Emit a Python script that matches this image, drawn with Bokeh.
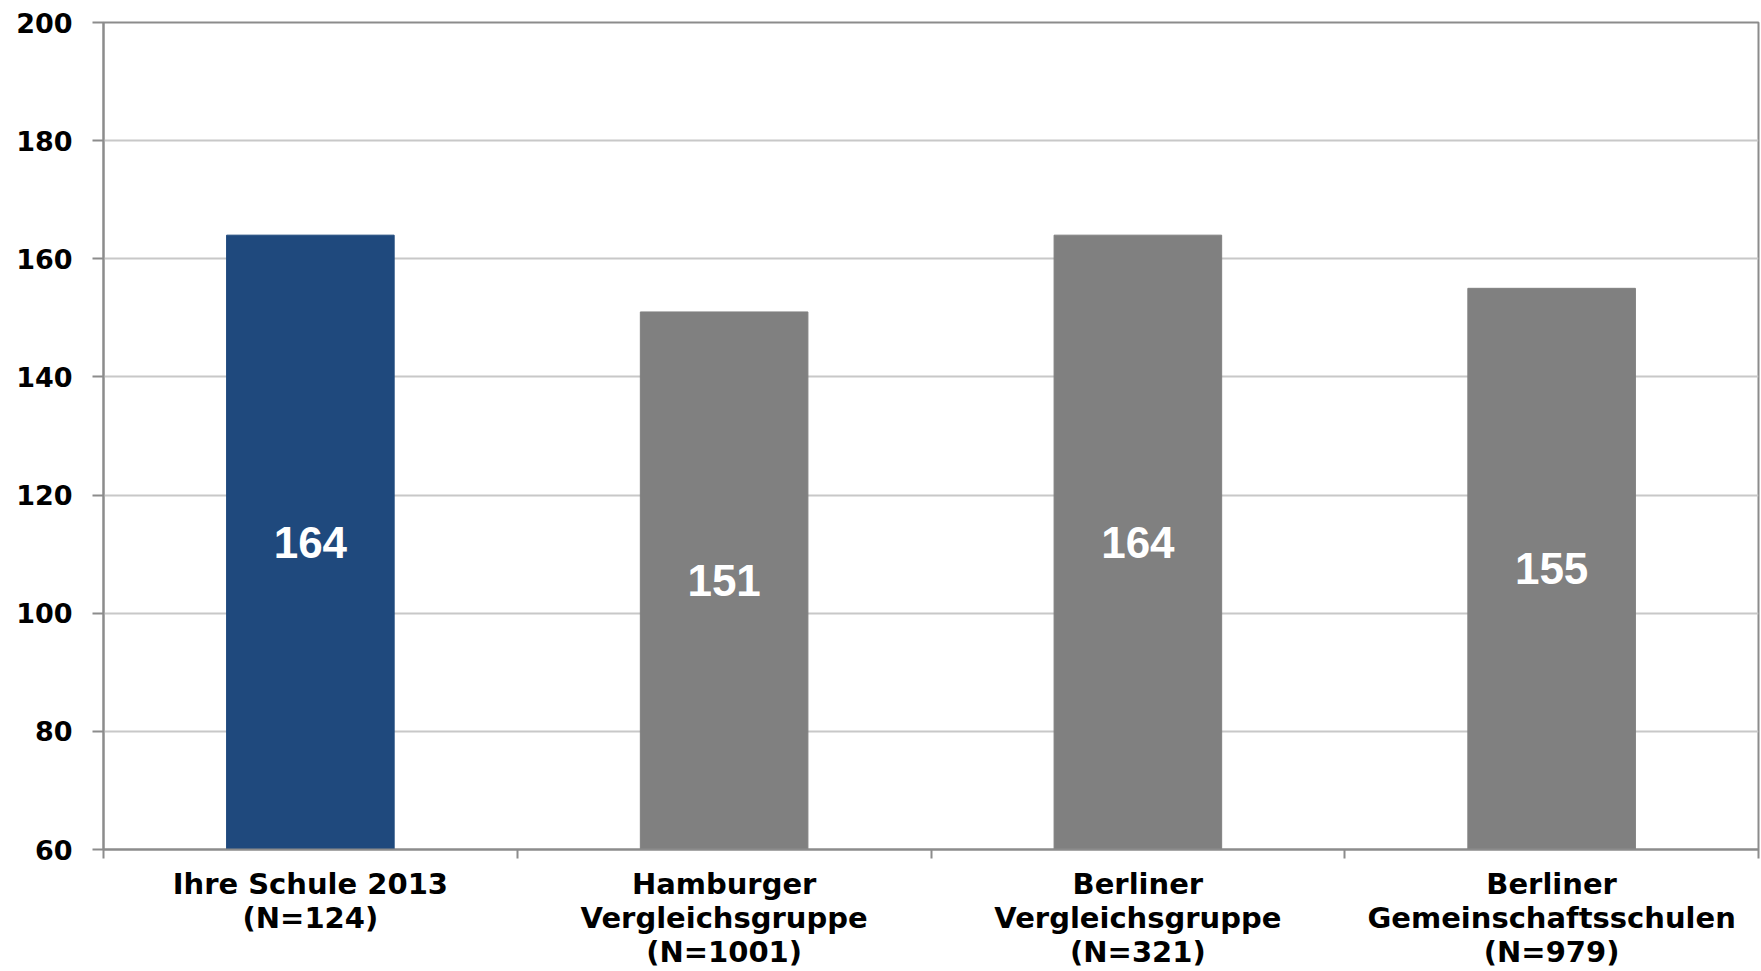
from bokeh.plotting import figure
from bokeh.models import Range1d, FixedTicker, ColumnDataSource
from bokeh.embed import file_html
from bokeh.resources import INLINE
from bokeh.core.properties import value

# ---- data ----
categories = ["Ihre Schule 2013", "Hamburger\nVergleichsgruppe",
              "Berliner\nVergleichsgruppe", "Berliner\nGemeinschaftsschulen"]
n_counts = [124, 1001, 321, 979]
values = [164, 151, 164, 155]
bar_colors = ["#1F497D", "#808080", "#808080", "#808080"]
y_ticks = [60, 80, 100, 120, 140, 160, 180, 200]

AXIS_FONT = "DejaVu Sans"
VAL_FONT = "Liberation Sans"

n = len(categories)
xs = [i + 0.5 for i in range(n)]
labels = {x: f"{c}\n(N={k})" for x, c, k in zip(xs, categories, n_counts)}
ymin, ymax = y_ticks[0], y_ticks[-1]

src = ColumnDataSource(dict(
    x=xs, top=values, color=bar_colors,
    mid=[(ymin + v) / 2 for v in values],
    txt=[str(v) for v in values],
))

p = figure(width=1760, height=971, output_backend="svg", toolbar_location=None,
           x_range=Range1d(0, n), y_range=Range1d(ymin, ymax),
           min_border_left=103, min_border_top=22, min_border_right=2,
           min_border_bottom=118)
p.background_fill_color = "white"
p.border_fill_color = "white"
p.outline_line_color = "#8c8c8c"
p.outline_line_width = 2

p.vbar(x="x", top="top", bottom=ymin, width=0.405, color="color", source=src)
p.text(x="x", y="mid", text="txt", source=src, text_color="white",
       text_font=value(VAL_FONT), text_font_style="bold", text_font_size="44px",
       text_align="center", text_baseline="middle")

# y axis
p.yaxis.ticker = FixedTicker(ticks=y_ticks)
p.yaxis.axis_line_color = "#8c8c8c"
p.yaxis.axis_line_width = 2
p.yaxis.major_tick_line_color = "#8c8c8c"
p.yaxis.major_tick_line_width = 2
p.yaxis.major_tick_out = 11
p.yaxis.major_tick_in = 0
p.yaxis.minor_tick_line_color = None
p.yaxis.major_label_standoff = 20
p.yaxis.major_label_text_font = AXIS_FONT
p.yaxis.major_label_text_font_style = "bold"
p.yaxis.major_label_text_font_size = "27px"
p.yaxis.major_label_text_color = "black"

# x axis: labels at centres, tick marks at category boundaries
p.xaxis.ticker = FixedTicker(ticks=xs, minor_ticks=list(range(n + 1)))
p.xaxis.major_label_overrides = labels
p.xaxis.axis_line_color = "#8c8c8c"
p.xaxis.axis_line_width = 2
p.xaxis.major_tick_line_color = None
p.xaxis.minor_tick_line_color = "#8c8c8c"
p.xaxis.minor_tick_line_width = 2
p.xaxis.minor_tick_out = 9
p.xaxis.minor_tick_in = 0
p.xaxis.major_label_standoff = 8
p.xaxis.major_label_text_font = AXIS_FONT
p.xaxis.major_label_text_font_style = "bold"
p.xaxis.major_label_text_font_size = "29px"
p.xaxis.major_label_text_color = "black"
p.xaxis.major_label_text_line_height = 1.0

p.xgrid.grid_line_color = None
p.ygrid.ticker = FixedTicker(ticks=y_ticks)
p.ygrid.grid_line_color = "#c8c8c8"
p.ygrid.grid_line_width = 2

open("out.html", "w").write(file_html(p, INLINE))
